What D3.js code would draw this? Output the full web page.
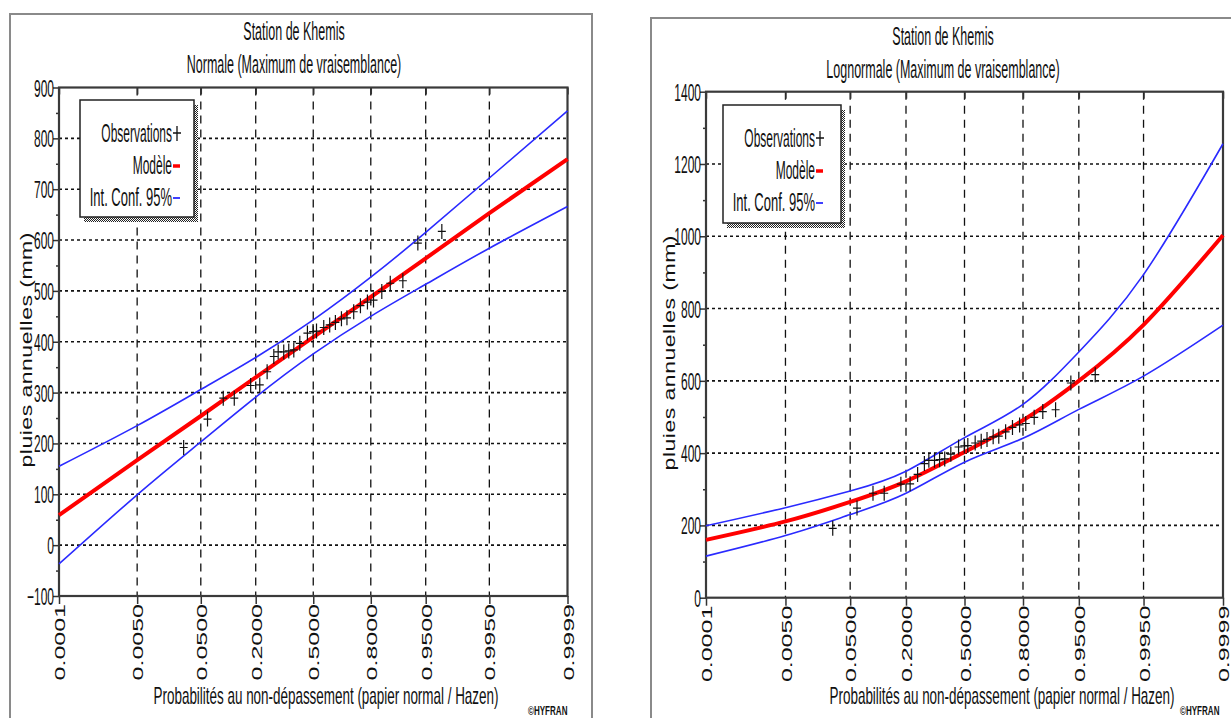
<!DOCTYPE html>
<html>
<head>
<meta charset="utf-8">
<title>Station de Khemis</title>
<script src="https://cdn.jsdelivr.net/npm/d3@7"></script>
<style>
    body { margin: 0; background: #fff; }
    svg text { font-family: "Liberation Sans", Arial, sans-serif; fill: #111; }
</style>
</head>
<body>
<svg width="1231" height="718"></svg>
<script>
    // non-exceedance probabilities shown on the x axis (normal paper)
    var probTicks = [0.0001, 0.005, 0.05, 0.2, 0.5, 0.8, 0.95, 0.995, 0.9999];
    var probTickLabels = ["0.0001", "0.0050", "0.0500", "0.2000", "0.5000", "0.8000", "0.9500", "0.9950", "0.9999"];

    // observations (Hazen plotting positions), mm
    var obsProb = [0.029, 0.061, 0.094, 0.124, 0.180, 0.217, 0.250, 0.282, 0.304, 0.333,
                   0.360, 0.388, 0.422, 0.466, 0.499, 0.519, 0.561, 0.595, 0.627, 0.660,
                   0.689, 0.723, 0.755, 0.786, 0.811, 0.842, 0.870, 0.905, 0.937, 0.970];
    var obsValue = [192, 248, 289, 289, 314, 315, 341, 371, 380, 380,
                    382, 384, 397, 417, 420, 421, 428, 433, 438, 445,
                    447, 459, 471, 478, 482, 499, 515, 520, 594, 617];

    // Normale: model and 95% interval at the tick probabilities
    var normModel = [59, 167, 254, 330, 409, 488, 564, 653, 759];
    var normUpper = [155, 235, 306, 369, 443, 527, 615, 722, 854];
    var normLower = [-37, 99, 203, 291, 376, 450, 513, 584, 666];

    // Lognormale: model and 95% interval at the tick probabilities
    var logModel = [160, 211, 265, 322, 403, 491, 600, 755, 1003];
    var logUpper = [199, 249, 295, 350, 443, 535, 680, 894, 1256];
    var logLower = [115, 172, 230, 289, 375, 441, 521, 613, 754];

    var normYTicks = [-100, 0, 100, 200, 300, 400, 500, 600, 700, 800, 900];
    var logYTicks = [0, 200, 400, 600, 800, 1000, 1200, 1400];

    // inverse normal cdf (Acklam), used for the probability scale
    function qnorm(p) {
        var a = [-3.969683028665376e+01, 2.209460984245205e+02, -2.759285104469687e+02,
                 1.383577518672690e+02, -3.066479806614716e+01, 2.506628277459239e+00];
        var b = [-5.447609879822406e+01, 1.615858368580409e+02, -1.556989798598866e+02,
                 6.680131188771972e+01, -1.328068155288572e+01];
        var c = [-7.784894002430293e-03, -3.223964580411365e-01, -2.400758277161838e+00,
                 -2.549732539343734e+00, 4.374664141464968e+00, 2.938163982698783e+00];
        var d = [7.784695709041462e-03, 3.224671290700398e-01, 2.445134137142996e+00,
                 3.754408661907416e+00];
        var q, r;
        if (p < 0.02425) {
            q = Math.sqrt(-2 * Math.log(p));
            return (((((c[0]*q+c[1])*q+c[2])*q+c[3])*q+c[4])*q+c[5]) /
                   ((((d[0]*q+d[1])*q+d[2])*q+d[3])*q+1);
        }
        if (p > 1 - 0.02425) {
            q = Math.sqrt(-2 * Math.log(1 - p));
            return -(((((c[0]*q+c[1])*q+c[2])*q+c[3])*q+c[4])*q+c[5]) /
                    ((((d[0]*q+d[1])*q+d[2])*q+d[3])*q+1);
        }
        q = p - 0.5; r = q * q;
        return (((((a[0]*r+a[1])*r+a[2])*r+a[3])*r+a[4])*r+a[5]) * q /
               (((((b[0]*r+b[1])*r+b[2])*r+b[3])*r+b[4])*r+1);
    }

    var svg = d3.select("svg");

    var defs = svg.append("defs");
    var pat = defs.append("pattern")
        .attr("id", "shade").attr("width", 2).attr("height", 2)
        .attr("patternUnits", "userSpaceOnUse");
    pat.append("rect").attr("width", 2).attr("height", 2).attr("fill", "#fff");
    pat.append("rect").attr("width", 1).attr("height", 1).attr("fill", "#222");
    pat.append("rect").attr("x", 1).attr("y", 1).attr("width", 1).attr("height", 1).attr("fill", "#222");

    // squeezed text helper (the chart's font is very narrow)
    function ntext(g, x, y, str, size, sx, anchor) {
        return g.append("text")
            .attr("transform", "translate(" + x + "," + y + ") scale(" + sx + ",1)")
            .attr("text-anchor", anchor || "middle")
            .style("font-size", size + "px")
            .text(str);
    }

    var panels = [
        { frame: [10, 14, 592], title: "Normale (Maximum de vraisemblance)", tx: 294, ty: [40, 73],
          x0: 59, x1: 567.5, y0: 87.5, y1: 596, yTicks: normYTicks, minorStep: 50,
          model: normModel, upper: normUpper, lower: normLower,
          legend: [80, 100, 114, 117], ytitleX: 27, xtitleX: 326, credit: 528 },
        { frame: [651, 18, 1240], title: "Lognormale (Maximum de vraisemblance)", tx: 943, ty: [45, 78],
          x0: 706, x1: 1223, y0: 91.7, y1: 597.7, yTicks: logYTicks, minorStep: 100,
          model: logModel, upper: logUpper, lower: logLower,
          legend: [723, 105, 118, 118], ytitleX: 670, xtitleX: 1002, credit: 1180 }
    ];

    panels.forEach(function(cfg, k) {
        var g = svg.append("g");

        // window frame
        g.append("path")
            .attr("d", "M" + cfg.frame[0] + ",720V" + cfg.frame[1] + "H" + cfg.frame[2] + "V720")
            .attr("fill", "none").attr("stroke", "#8a8a8a").attr("stroke-width", 2);

        var zMin = qnorm(probTicks[0]), zMax = qnorm(probTicks[probTicks.length - 1]);
        var x = d3.scaleLinear().domain([zMin, zMax]).range([cfg.x0, cfg.x1]);
        var px = function(p) { return x(qnorm(p)); };
        var yDom = d3.extent(cfg.yTicks);
        var y = d3.scaleLinear().domain(yDom).range([cfg.y1, cfg.y0]);

        // titles
        ntext(g, cfg.tx, cfg.ty[0], "Station de Khemis", 25, 0.5);
        ntext(g, cfg.tx, cfg.ty[1], cfg.title, 25, 0.5);

        // grid
        g.append("g").selectAll("line")
            .data(cfg.yTicks.slice(1, -1))
            .enter().append("line")
            .attr("x1", cfg.x0).attr("x2", cfg.x1)
            .attr("y1", function(d) { return y(d); }).attr("y2", function(d) { return y(d); })
            .attr("stroke", "#111").attr("stroke-width", 1.6).attr("stroke-dasharray", "3,3");
        g.append("g").selectAll("line")
            .data(probTicks.slice(1, -1))
            .enter().append("line")
            .attr("x1", px).attr("x2", px)
            .attr("y1", cfg.y0).attr("y2", cfg.y1)
            .attr("stroke", "#111").attr("stroke-width", 1.3).attr("stroke-dasharray", "8,6");

        // y axis
        var yAxis = g.append("g").attr("transform", "translate(" + cfg.x0 + ",0)")
            .call(d3.axisLeft(y).tickValues(cfg.yTicks).tickSizeInner(6).tickSizeOuter(0)
                .tickFormat(d3.format("d")));
        yAxis.select(".domain").remove();
        yAxis.selectAll(".tick line").attr("stroke", "#333").attr("stroke-width", 1.5);
        yAxis.selectAll(".tick text")
            .attr("x", null).attr("dy", null)
            .attr("transform", "translate(-5,8.5) scale(0.5,1)")
            .style("font-size", "24px").attr("fill", "#111");
        var minors = d3.range(yDom[0] + cfg.minorStep, yDom[1], cfg.minorStep * 2);
        var yMinor = g.append("g").attr("transform", "translate(" + cfg.x0 + ",0)")
            .call(d3.axisLeft(y).tickValues(minors).tickSize(3).tickFormat(""));
        yMinor.select(".domain").remove();
        yMinor.selectAll(".tick line").attr("stroke", "#333").attr("stroke-width", 1.5);

        // x axis (normal probability paper)
        var xAxis = g.append("g").attr("transform", "translate(0," + cfg.y1 + ")")
            .call(d3.axisBottom(x).tickValues(probTicks.map(qnorm)).tickSizeInner(8).tickSizeOuter(0)
                .tickFormat(function(d, i) { return probTickLabels[i]; }));
        xAxis.select(".domain").remove();
        xAxis.selectAll(".tick line").attr("stroke", "#333").attr("stroke-width", 1.5);
        xAxis.selectAll(".tick text")
            .attr("y", null).attr("dy", null)
            .attr("text-anchor", "end")
            .attr("transform", "translate(0,8) rotate(-90) scale(1,0.62) translate(0,9)")
            .style("font-size", "25px").attr("fill", "#222");
        var xTop = g.append("g").attr("transform", "translate(0," + cfg.y0 + ")")
            .call(d3.axisTop(x).tickValues(probTicks.map(qnorm)).tickSizeInner(-7).tickSizeOuter(0).tickFormat(""));
        xTop.select(".domain").remove();
        xTop.selectAll(".tick line").attr("stroke", "#333").attr("stroke-width", 1.5);

        // plot frame
        g.append("rect")
            .attr("x", cfg.x0).attr("y", cfg.y0)
            .attr("width", cfg.x1 - cfg.x0).attr("height", cfg.y1 - cfg.y0)
            .attr("fill", "none").attr("stroke", "#3a3a3a").attr("stroke-width", 2.2);

        // axis titles
        g.append("text")
            .attr("transform", "translate(" + cfg.ytitleX + "," + ((cfg.y0 + cfg.y1) / 2 + 8) + ") rotate(-90) scale(1,0.68)")
            .attr("text-anchor", "middle").attr("dy", "0.35em")
            .style("font-size", "23px").style("letter-spacing", "0.5px").attr("fill", "#222")
            .text("pluies annuelles (mm)");
        ntext(g, cfg.xtitleX, 704, "Probabilités au non-dépassement (papier normal / Hazen)", 24, 0.56);
        ntext(g, cfg.credit, 715, "©HYFRAN", 13, 0.62, "start").style("font-weight", "bold");

        // curves
        var curve = function(vals) {
            return d3.line()
                .x(function(d, i) { return px(probTicks[i]); })
                .y(function(d) { return y(d); })
                .curve(d3.curveNatural)(vals);
        };
        g.append("path").attr("d", curve(cfg.upper))
            .attr("fill", "none").attr("stroke", "#2a2aff").attr("stroke-width", 1.6);
        g.append("path").attr("d", curve(cfg.lower))
            .attr("fill", "none").attr("stroke", "#2a2aff").attr("stroke-width", 1.6);
        g.append("path").attr("d", curve(cfg.model))
            .attr("fill", "none").attr("stroke", "#ff0000").attr("stroke-width", 4);

        // observations
        g.append("g").selectAll("path")
            .data(obsProb)
            .enter().append("path")
            .attr("transform", function(d, i) { return "translate(" + px(d) + "," + y(obsValue[i]) + ")"; })
            .attr("d", "M-4,0H4M0,-7.5V7.5")
            .attr("stroke", "#111").attr("stroke-width", 1.2);

        // legend
        var L = cfg.legend;
        g.append("rect").attr("x", L[0] + 4).attr("y", L[1] + 5).attr("width", L[2]).attr("height", L[3])
            .attr("fill", "url(#shade)");
        g.append("rect").attr("x", L[0]).attr("y", L[1]).attr("width", L[2]).attr("height", L[3])
            .attr("fill", "#fff").attr("stroke", "#222").attr("stroke-width", 1.5);
        var tx = L[0] + 92, rows = [L[1] + 42, L[1] + 74, L[1] + 106];
        ntext(g, tx, rows[0], "Observations", 25, 0.48, "end");
        ntext(g, tx, rows[1], "Modèle", 25, 0.48, "end");
        ntext(g, tx, rows[2], "Int. Conf. 95%", 25, 0.52, "end");
        g.append("path").attr("d", "M" + (tx + 1) + "," + (rows[0] - 9) + "h8M" + (tx + 5) + "," + (rows[0] - 16) + "v15")
            .attr("stroke", "#111").attr("stroke-width", 1.3);
        g.append("line").attr("x1", tx + 1).attr("x2", tx + 8).attr("y1", rows[1] - 8).attr("y2", rows[1] - 8)
            .attr("stroke", "#ff0000").attr("stroke-width", 3.5);
        g.append("line").attr("x1", tx + 1).attr("x2", tx + 8).attr("y1", rows[2] - 8).attr("y2", rows[2] - 8)
            .attr("stroke", "#2a2aff").attr("stroke-width", 1.8);
    });
</script>
</body>
</html>
